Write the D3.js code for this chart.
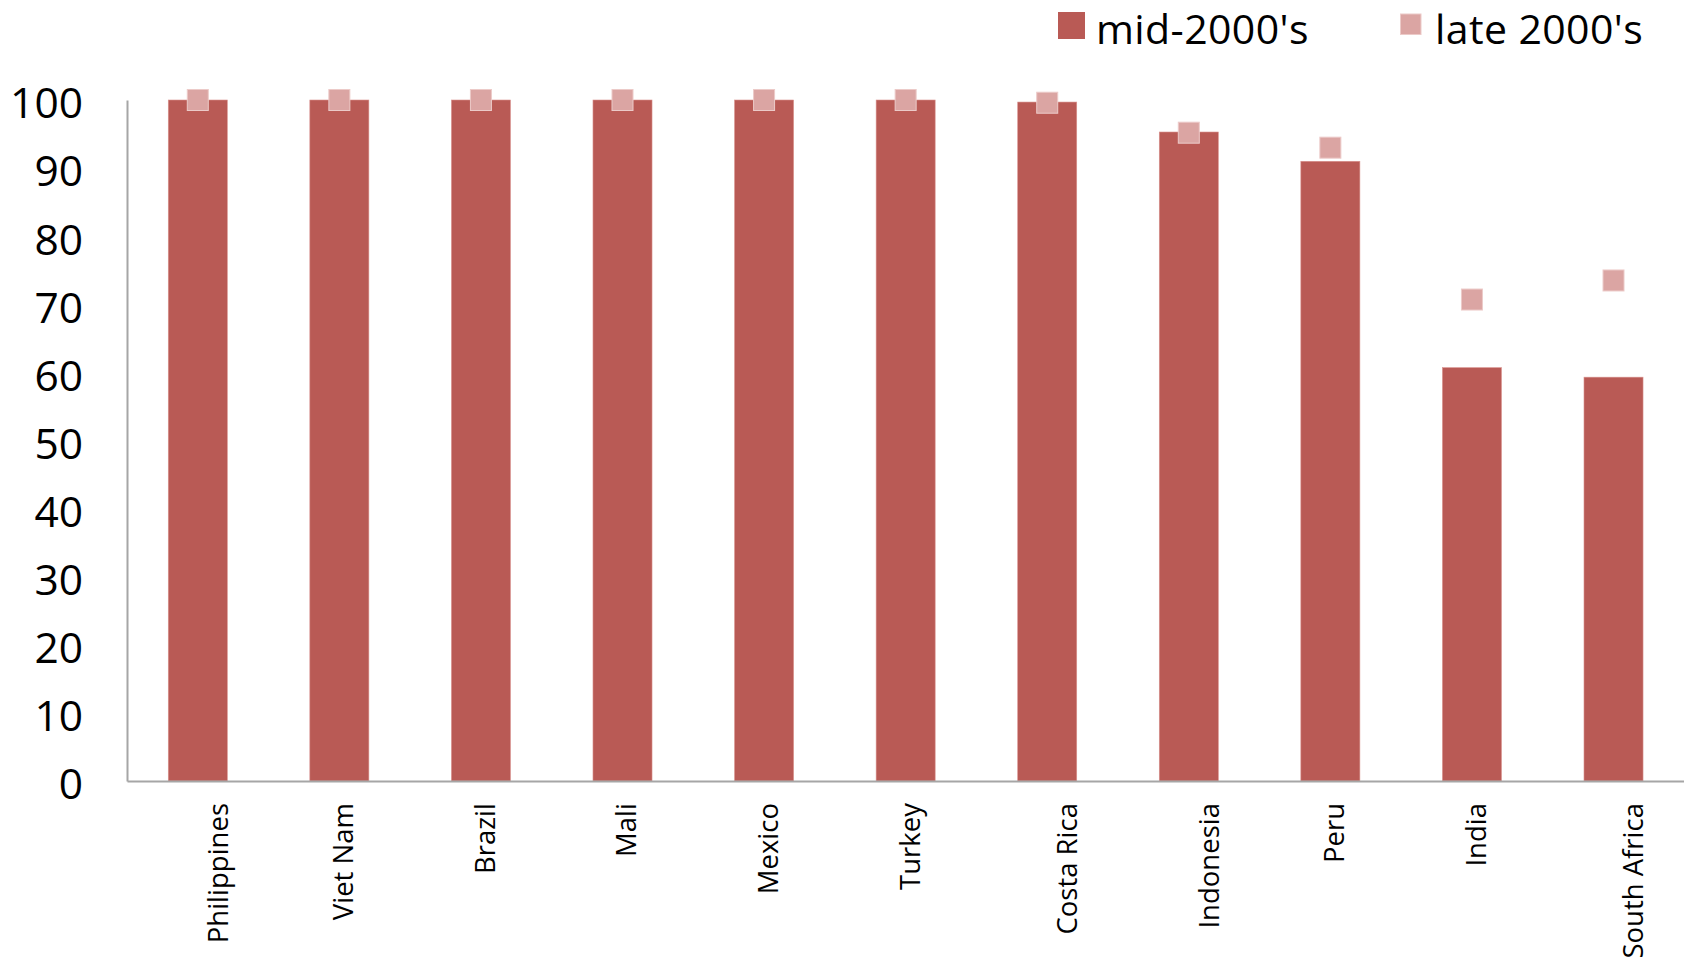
<!DOCTYPE html>
<html>
<head>
<meta charset="utf-8">
<script src="https://cdn.jsdelivr.net/npm/d3@7"></script>
<style>
  html, body { margin: 0; padding: 0; background: #ffffff; }
  svg { display: block; font-family: "Open Sans", sans-serif; }
</style>
</head>
<body>
<svg id="chart" width="1684" height="963"></svg>
<script>
// Countries, in display order
const categories = ["Philippines", "Viet Nam", "Brazil", "Mali", "Mexico", "Turkey",
                    "Costa Rica", "Indonesia", "Peru", "India", "South Africa"];
// Share (%) in the mid-2000's (bars)
const midValues  = [100, 100, 100, 100, 100, 100, 99.7, 95.3, 91.0, 60.7, 59.3];
// Share (%) in the late 2000's (square markers)
const lateValues = [100, 100, 100, 100, 100, 100, 99.6, 95.2, 93.0, 70.7, 73.5];
// Y-axis ticks
const yTicks = [0, 10, 20, 30, 40, 50, 60, 70, 80, 90, 100];
const seriesNames = ["mid-2000's", "late 2000's"];

const barColor = "#b95a55";
const markerColor = "#dba5a3";
const axisColor = "#a6a6a6";

const svg = d3.select("#chart");
const plotLeft = 127, plotRight = 1684.3, plotTop = 100, plotBottom = 781;

const x = d3.scaleBand()
  .domain(categories)
  .range([plotLeft, plotRight])
  .paddingInner(0.583)
  .paddingOuter(0.2915);

const y = d3.scaleLinear().domain([0, 100]).range([plotBottom, plotTop]);

const data = categories.map((c, i) => ({ c, mid: midValues[i], late: lateValues[i] }));

// Bars
svg.append("g").selectAll("rect")
  .data(data)
  .join("rect")
  .attr("x", d => x(d.c))
  .attr("y", d => y(d.mid))
  .attr("width", x.bandwidth())
  .attr("height", d => y(0) - y(d.mid))
  .attr("fill", barColor)
  .attr("stroke", "#d9928e")
  .attr("stroke-width", 0.6);

// Square markers
const ms = 21;
svg.append("g").selectAll("rect")
  .data(data)
  .join("rect")
  .attr("x", d => x(d.c) + x.bandwidth() / 2 - ms / 2)
  .attr("y", d => y(d.late) - ms / 2)
  .attr("width", ms)
  .attr("height", ms)
  .attr("fill", markerColor)
  .attr("stroke", "#eccac8")
  .attr("stroke-width", 1);

// Axes
const yAxis = d3.axisLeft(y).tickValues(yTicks).tickSize(0).tickPadding(44);
const gy = svg.append("g").attr("transform", `translate(${plotLeft},0)`).call(yAxis);
gy.select(".domain").attr("stroke", axisColor).attr("stroke-width", 2);
gy.selectAll("text")
  .attr("font-family", "Open Sans, sans-serif")
  .attr("font-size", 42.5)
  .attr("fill", "#000")
  .attr("dy", "0.42em");

const xAxis = d3.axisBottom(x).tickSize(0).tickSizeOuter(0).tickFormat(() => "");
const gx = svg.append("g").attr("transform", `translate(0,${plotBottom})`).call(xAxis);
gx.select(".domain").attr("stroke", axisColor).attr("stroke-width", 2);

// Rotated category labels; longer names sit a little further right
svg.append("g").selectAll("text")
  .data(categories)
  .join("text")
  .attr("transform", d => {
    const shift = d.length > 8 ? 20 : 4;
    return `translate(${x(d) + x.bandwidth() / 2 + shift},803) rotate(-90)`;
  })
  .attr("text-anchor", "end")
  .attr("dy", "0.36em")
  .attr("font-size", 27.5)
  .attr("fill", "#000")
  .text(d => d);

// Legend
const legend = svg.append("g");
legend.append("rect").attr("x", 1058).attr("y", 12).attr("width", 27).attr("height", 27)
  .attr("fill", barColor);
legend.append("text").attr("x", 1096).attr("y", 44).attr("font-size", 41).attr("fill", "#000")
  .attr("letter-spacing", 0.4)
  .text(seriesNames[0]);
legend.append("rect").attr("x", 1400.5).attr("y", 14).attr("width", 20.5).attr("height", 20.5)
  .attr("fill", markerColor).attr("stroke", "#eccac8").attr("stroke-width", 1);
legend.append("text").attr("x", 1435).attr("y", 44).attr("font-size", 41).attr("fill", "#000")
  .attr("letter-spacing", 0.4)
  .text(seriesNames[1]);
</script>
</body>
</html>
